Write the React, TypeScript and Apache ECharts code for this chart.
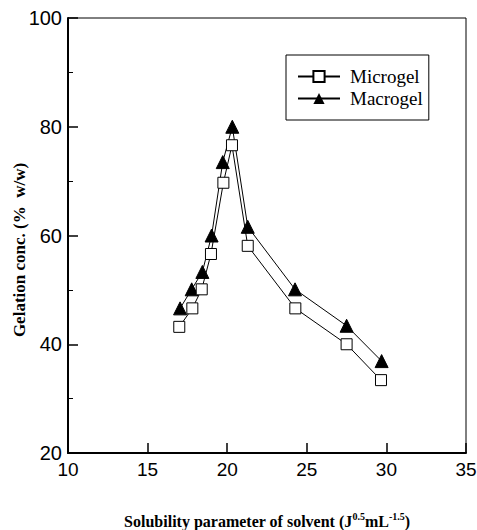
import React, { useEffect, useRef } from "react";
import * as echarts from "echarts";

const microX = [16.99, 17.81, 18.4, 18.98, 19.76, 20.3, 21.29, 24.28, 27.5, 29.66];
const microY = [43.2, 46.6, 50.1, 56.6, 69.7, 76.6, 58.1, 46.6, 40.0, 33.4];
const macroX = [17.04, 17.77, 18.44, 19.02, 19.72, 20.32, 21.29, 24.26, 27.5, 29.7];
const macroY = [46.6, 50.1, 53.3, 60.0, 73.5, 80.0, 61.6, 50.1, 43.4, 36.9];
const seriesNames = ["Microgel", "Macrogel"];
const yTitle = "Gelation conc. (%  w/w)";

export default function App() {
  const ref = useRef<HTMLDivElement>(null);
  useEffect(() => {
    if (!ref.current) return;
    const chart = echarts.init(ref.current, null, { renderer: "svg" });
    const serif = "Liberation Serif";
    const sans = "Liberation Sans";
    chart.setOption({
      animation: false,
      backgroundColor: "#fff",
      grid: {
        left: 68,
        right: 11,
        top: 18,
        bottom: 77,
        show: true,
        borderColor: "#000",
        borderWidth: 1,
        outerBoundsMode: "none",
        containLabel: false,
      },
      legend: {
        left: 286,
        top: 55,
        orient: "vertical",
        data: seriesNames,
        borderColor: "#000",
        borderWidth: 1,
        padding: [12, 6, 12, 11],
        itemWidth: 42,
        itemHeight: 14,
        itemGap: 3,
        textStyle: { fontFamily: serif, fontSize: 19, color: "#000", padding: [0, 0, 0, 5] },
      },
      graphic: [
        {
          type: "text",
          x: 19,
          y: 250,
          rotation: Math.PI / 2,
          style: {
            text: yTitle,
            fontFamily: serif,
            fontWeight: "bold",
            fontSize: 17,
            fill: "#000",
            align: "center",
            verticalAlign: "middle",
          },
        },
      ],
      xAxis: {
        type: "value",
        min: 10,
        max: 35,
        interval: 5,
        axisLine: { show: true, lineStyle: { color: "#000", width: 2 } },
        axisTick: { show: true, inside: true, length: 10, lineStyle: { color: "#000", width: 1.5 } },
        splitLine: { show: false },
        axisLabel: { fontFamily: sans, fontSize: 19, color: "#000", margin: 7 },
        name: "Solubility parameter of solvent (J{sup|0.5}mL{sup|-1.5})",
        nameLocation: "middle",
        nameGap: 58,
        nameTextStyle: {
          fontFamily: serif,
          fontWeight: "bold",
          fontSize: 16,
          color: "#000",
          lineHeight: 20,
          rich: {
            sup: {
              fontFamily: serif,
              fontWeight: "bold",
              fontSize: 10,
              color: "#000",
              verticalAlign: "top",
              lineHeight: 20,
              padding: [0, 0, 8, 0],
            },
          },
        },
      },
      yAxis: {
        type: "value",
        min: 20,
        max: 100,
        interval: 20,
        axisLine: { show: true, lineStyle: { color: "#000", width: 2 } },
        axisTick: { show: true, inside: true, length: 10, lineStyle: { color: "#000", width: 1.5 } },
        minorTick: { show: true, splitNumber: 2, length: 5, lineStyle: { color: "#000", width: 1 } },
        splitLine: { show: false },
        minorSplitLine: { show: false },
        axisLabel: { fontFamily: sans, fontSize: 20, color: "#000", margin: 6 },
      },
      series: [
        {
          name: seriesNames[0],
          type: "line",
          data: microX.map((x, i) => [x, microY[i]]),
          symbol: "rect",
          symbolSize: 11,
          showAllSymbol: true,
          lineStyle: { color: "#000", width: 1 },
          itemStyle: { color: "#fff", borderColor: "#000", borderWidth: 1 },
          z: 3,
        },
        {
          name: seriesNames[1],
          type: "line",
          data: macroX.map((x, i) => [x, macroY[i]]),
          symbol: "triangle",
          symbolSize: 13,
          showAllSymbol: true,
          lineStyle: { color: "#000", width: 1 },
          itemStyle: { color: "#000", borderColor: "#000" },
          z: 2,
        },
      ],
    });
    return () => chart.dispose();
  }, []);
  return <div ref={ref} style={{ width: 477, height: 530, position: "absolute", left: 0, top: 0 }} />;
}
